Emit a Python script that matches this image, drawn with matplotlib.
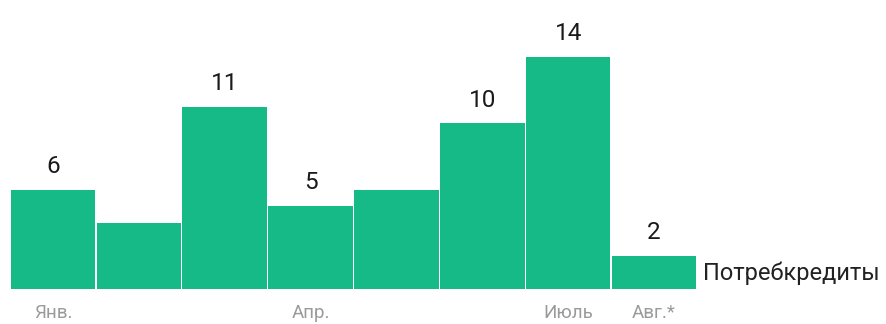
import matplotlib.pyplot as plt

plt.rcParams['font.family'] = ['Roboto', 'DejaVu Sans']

# данные
months = ['Янв.', 'Фев.', 'Мар.', 'Апр.', 'Май', 'Июнь', 'Июль', 'Авг.*']
values = [6, 4, 11, 5, 6, 10, 14, 2]
labels = ['6', '', '11', '5', '', '10', '14', '2']  # подписи над столбцами
shown_ticks = [0, 3, 6, 7]  # какие месяцы подписаны
series_name = 'Потребкредиты'

green = '#16BA87'

fig = plt.figure(figsize=(8.86, 3.24), dpi=100)
ax = fig.add_axes([10 / 886, 35 / 324, 687 / 886, 289 / 324])

x = list(range(len(values)))
ax.bar(x, values, width=0.985, color=green, edgecolor='none')

for xi, v, lab in zip(x, values, labels):
    if lab:
        ax.annotate(lab, (xi, v), xytext=(0, 12), textcoords='offset points',
                    ha='center', va='baseline', fontsize=17.5, color='#1a1a1a')

ax.annotate(series_name, (len(values) - 0.5, 0), xytext=(4, 3),
            textcoords='offset points', ha='left', va='bottom',
            fontsize=17, color='#222222', annotation_clip=False)

ax.set_xlim(-0.5, len(values) - 0.5)
ax.set_ylim(0, 17.44)
ax.set_xticks([x[i] for i in shown_ticks])
ax.set_xticklabels([months[i] for i in shown_ticks], fontsize=13.5, color='#9a9a9a')
ax.tick_params(axis='x', length=0, pad=11)
ax.set_yticks([])
for s in ax.spines.values():
    s.set_visible(False)

fig.savefig('out.png', dpi=100)
